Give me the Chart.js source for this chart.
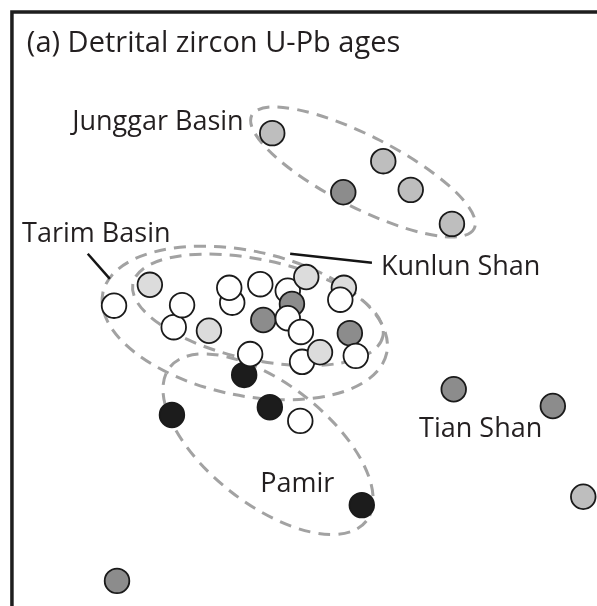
<!DOCTYPE html>
<html>
<head>
<meta charset="utf-8">
<script src="https://cdn.jsdelivr.net/npm/chart.js@4/dist/chart.umd.min.js"></script>
<style>
  html, body { margin: 0; padding: 0; background: #ffffff; }
  #wrap { position: relative; width: 597px; height: 606px; }
</style>
</head>
<body>
<div id="wrap"><canvas id="c"></canvas></div>
<script>
// Sample positions on the age-spectrum similarity plane (arbitrary units).
// Drawing order follows array order, so later samples sit on top.
const sampleX = [
  45.6, 64.2, 68.8, 75.7, 57.5,
  76.0, 92.6, 97.7, 19.6,
  19.1, 25.1, 29.1, 30.5, 35.0, 38.9, 38.4, 43.6, 44.1, 48.2,
  51.3, 48.9, 48.2, 50.4, 50.6, 53.6, 57.6, 57.0, 58.6, 59.6,
  40.9, 41.9, 45.2, 50.3, 28.8, 60.6
];
const sampleY = [
  79.2, 74.5, 69.7, 64.0, 69.3,
  36.3, 33.5, 18.3, 4.2,
  50.3, 53.8, 46.7, 50.4, 46.1, 50.8, 53.3, 53.9, 47.9, 52.8,
  55.1, 50.6, 48.2, 45.9, 40.9, 42.5, 53.3, 51.3, 45.7, 41.9,
  38.7, 42.2, 33.3, 31.0, 32.0, 16.9
];
// Source class of each sample
const sampleKind = [
  'junggar', 'junggar', 'junggar', 'junggar', 'tianshan',
  'tianshan', 'tianshan', 'junggar', 'tianshan',
  'kunlun', 'tarim', 'kunlun', 'kunlun', 'tarim', 'kunlun', 'kunlun', 'kunlun', 'tianshan', 'kunlun',
  'tarim', 'tianshan', 'kunlun', 'kunlun', 'kunlun', 'tarim', 'tarim', 'kunlun', 'tianshan', 'kunlun',
  'pamir', 'kunlun', 'pamir', 'kunlun', 'pamir', 'pamir'
];
const kindFill = {
  kunlun: '#ffffff',
  tarim: '#dcdcdc',
  junggar: '#bebebe',
  tianshan: '#8c8c8c',
  pamir: '#1c1c1c'
};

// Group outlines: centre, semi-axes and tilt (degrees, counter-clockwise)
const outlineNames = ['Junggar', 'Tarim', 'Kunlun', 'Pamir'];
const outlineCx = [60.8, 41.0, 43.2, 44.9];
const outlineCy = [72.7, 47.4, 49.6, 27.1];
const outlineA  = [20.9, 24.3, 21.4, 20.9];
const outlineB  = [6.0, 12.1, 8.4, 10.1];
const outlineTilt = [-27, -12, -12, -38];

// Text labels: string, left x, baseline y
const labelText = ['Junggar Basin', 'Tarim Basin', 'Kunlun Shan', 'Tian Shan', 'Pamir'];
const labelX = [12.1, 3.7, 63.8, 70.2, 43.6];
const labelY = [79.7, 61.0, 55.4, 28.3, 19.1];
const titleText = '(a) Detrital zircon U-Pb ages';
const titleX = 4.5, titleY = 92.8;

// Leader lines: [x1, y1, x2, y2]
const leaderLines = [
  [14.7, 59.0, 18.4, 54.8],
  [48.6, 59.0, 62.3, 57.5]
];

const FONT = '"Open Sans", "DejaVu Sans", sans-serif';
const INK = '#231f20';

const overlay = {
  id: 'overlay',
  beforeDatasetsDraw(chart) {
    const { ctx, scales: { x, y } } = chart;
    const unit = x.getPixelForValue(1) - x.getPixelForValue(0);
    ctx.save();
    // frame (top and left edges)
    ctx.strokeStyle = '#1e1e1e';
    ctx.lineWidth = 3.5;
    ctx.beginPath();
    ctx.moveTo(x.getPixelForValue(2.0), y.getPixelForValue(-1));
    ctx.lineTo(x.getPixelForValue(2.0), y.getPixelForValue(99.5));
    ctx.lineTo(x.getPixelForValue(101), y.getPixelForValue(99.5));
    ctx.stroke();

    // dashed group outlines
    ctx.strokeStyle = '#a2a2a2';
    ctx.lineWidth = 3;
    ctx.setLineDash([12, 8]);
    outlineNames.forEach((n, i) => {
      ctx.beginPath();
      ctx.ellipse(
        x.getPixelForValue(outlineCx[i]), y.getPixelForValue(outlineCy[i]),
        outlineA[i] * unit, outlineB[i] * unit,
        -outlineTilt[i] * Math.PI / 180, 0, Math.PI * 2
      );
      ctx.stroke();
    });
    ctx.setLineDash([]);

    // leader lines
    ctx.strokeStyle = '#151515';
    ctx.lineWidth = 2.5;
    leaderLines.forEach(l => {
      ctx.beginPath();
      ctx.moveTo(x.getPixelForValue(l[0]), y.getPixelForValue(l[1]));
      ctx.lineTo(x.getPixelForValue(l[2]), y.getPixelForValue(l[3]));
      ctx.stroke();
    });

    // labels
    ctx.fillStyle = INK;
    ctx.textBaseline = 'alphabetic';
    ctx.textAlign = 'left';
    ctx.font = '27px ' + FONT;
    labelText.forEach((t, i) => {
      ctx.fillText(t, x.getPixelForValue(labelX[i]), y.getPixelForValue(labelY[i]));
    });
    ctx.font = '29px ' + FONT;
    ctx.fillText(titleText, x.getPixelForValue(titleX), y.getPixelForValue(titleY));
    ctx.restore();
  }
};

new Chart(document.getElementById('c'), {
  type: 'scatter',
  data: {
    datasets: [{
      data: sampleX.map((v, i) => ({ x: v, y: sampleY[i] })),
      backgroundColor: sampleKind.map(k => kindFill[k]),
      borderColor: '#1a1a1a',
      borderWidth: 1.8,
      pointRadius: 12.3,
      pointHoverRadius: 12.3,
      clip: false
    }]
  },
  options: {
    responsive: true,
    maintainAspectRatio: false,
    animation: false,
    events: [],
    layout: { padding: 0, autoPadding: false },
    plugins: { legend: { display: false }, tooltip: { enabled: false }, title: { display: false } },
    scales: {
      x: { type: 'linear', min: 0, max: 100, display: false },
      y: { type: 'linear', min: 0, max: 101.5, display: false }
    }
  },
  plugins: [overlay]
});
</script>
</body>
</html>
